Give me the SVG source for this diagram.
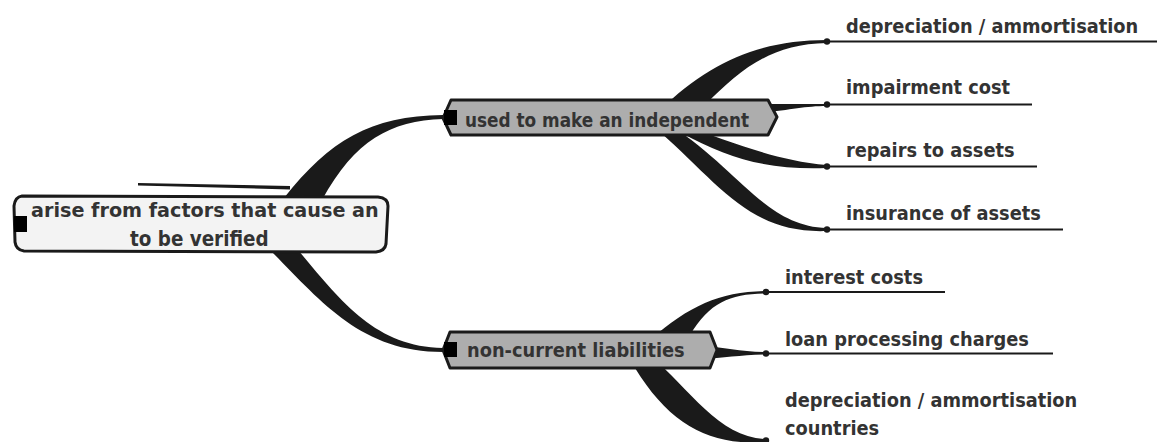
<svg xmlns="http://www.w3.org/2000/svg" width="1157" height="442" viewBox="0 0 1157 442">
  <style>
    .conn { fill: #1a1a1a; stroke: none; }
    .leafline { stroke: #1a1a1a; stroke-width: 2; fill: none; }
    .dot { fill: #1a1a1a; }
    .node { stroke: #1a1a1a; stroke-width: 3; stroke-linejoin: round; }
    .grey { fill: #adadad; }
    .pale { fill: #f3f3f3; }
    .handle { fill: #000; }
    .lbl { font-family: "DejaVu Sans Condensed", "DejaVu Sans", sans-serif; font-stretch: condensed; font-weight: bold; font-size: 19.8px; fill: #333; }
    .wide { font-family: "DejaVu Sans", sans-serif; font-weight: bold; font-size: 19.2px; fill: #333; }
  </style>
  <rect width="1157" height="442" fill="#fff"/>

  <!-- tapered branches -->
  <g id="connectors">
    <!-- root to upper topic -->
    <path class="conn" d="M 284,198 C 330,140 370,116 443,115 L 443,119 C 390,121 355,140 322,200 Z"/>
    <path class="conn" d="M 138,183 L 290,186 L 290,189.5 L 138,185.5 Z"/>
    <!-- root to lower topic -->
    <path class="conn" d="M 270,250 C 320,300 360,352 443,352 L 443,348 C 375,347 340,300 298,250 Z"/>

    <!-- upper topic to its leaves -->
    <path class="conn" d="M 660,110 C 710,62 760,40 827,40 L 827,43 C 770,44 740,70 705,105 Z"/>
    <path class="conn" d="M 760,104 C 790,104 805,104 827,104 L 827,106 C 805,106 790,110 760,113 Z"/>
    <path class="conn" d="M 680,125 C 730,140 770,160 827,165 L 827,168 C 770,170 730,160 680,132 Z"/>
    <path class="conn" d="M 670,125 C 740,170 765,226 827,228 L 827,231 C 750,234 720,185 660,132 Z"/>

    <!-- lower topic to its leaves -->
    <path class="conn" d="M 650,340 C 690,305 720,292 766,291 L 766,293.5 C 730,294 710,302 690,335 Z"/>
    <path class="conn" d="M 700,346 C 725,347 740,352 766,352 L 766,354.5 C 740,355 725,358 700,359 Z"/>
    <path class="conn" d="M 650,355 C 690,390 720,438 766,439 L 766,442 C 710,446 670,425 635,368 Z"/>

    <!-- leaf underlines -->
    <line class="leafline" x1="827" y1="41.5" x2="1157" y2="41.5"/>
    <line class="leafline" x1="827" y1="104.5" x2="1032" y2="104.5"/>
    <line class="leafline" x1="827" y1="166.5" x2="1037" y2="166.5"/>
    <line class="leafline" x1="827" y1="229.5" x2="1063" y2="229.5"/>
    <line class="leafline" x1="766" y1="292" x2="945" y2="292"/>
    <line class="leafline" x1="766" y1="353.5" x2="1053" y2="353.5"/>

    <circle class="dot" cx="827" cy="41.5" r="3.2"/>
    <circle class="dot" cx="827" cy="104.5" r="3.2"/>
    <circle class="dot" cx="827" cy="166.5" r="3.2"/>
    <circle class="dot" cx="827" cy="229.5" r="3.2"/>
    <circle class="dot" cx="766" cy="292" r="3.2"/>
    <circle class="dot" cx="766" cy="353.5" r="3.2"/>
    <circle class="dot" cx="766" cy="440.5" r="3.2"/>
  </g>

  <!-- central topic -->
  <g id="root">
    <path class="node pale" d="M 22,196 L 378,197 Q 388,198 388,206 L 386,244 Q 385,251 376,252 L 24,251 Q 16,250 15,242 L 14,206 Q 15,197 22,196 Z"/>
    <rect class="handle" x="14" y="216" width="13" height="16"/>
    <text class="wide" x="31" y="217">arise from factors that cause an</text>
    <text class="lbl" x="130" y="246" style="font-size:20.4px">to be verified</text>
  </g>

  <g id="topic-independent">
    <path class="node grey" d="M 451,100 L 768,100 L 777,117 L 768,135 L 451,135 L 443,118 Z"/>
    <rect class="handle" x="444" y="110" width="13" height="15"/>
    <text class="lbl" x="465" y="127" style="font-size:18.8px">used to make an independent</text>
  </g>

  <g id="topic-liabilities">
    <path class="node grey" d="M 450,332 L 710,332 L 717,350 L 710,368 L 450,368 L 443,350 Z"/>
    <rect class="handle" x="444" y="342" width="13" height="15"/>
    <text class="lbl" x="467" y="357">non-current liabilities</text>
  </g>

  <g id="leaf-depreciation"><text class="lbl" x="846" y="33">depreciation / ammortisation</text></g>
  <g id="leaf-impairment"><text class="lbl" x="846" y="94">impairment cost</text></g>
  <g id="leaf-repairs"><text class="lbl" x="846" y="157">repairs to assets</text></g>
  <g id="leaf-insurance"><text class="lbl" x="846" y="220">insurance of assets</text></g>
  <g id="leaf-interest"><text class="lbl" x="785" y="284">interest costs</text></g>
  <g id="leaf-loan"><text class="lbl" x="785" y="346">loan processing charges</text></g>
  <g id="leaf-depreciation-countries">
    <text class="lbl" x="785" y="407">depreciation / ammortisation</text>
    <text class="lbl" x="785" y="435">countries</text>
  </g>
</svg>
